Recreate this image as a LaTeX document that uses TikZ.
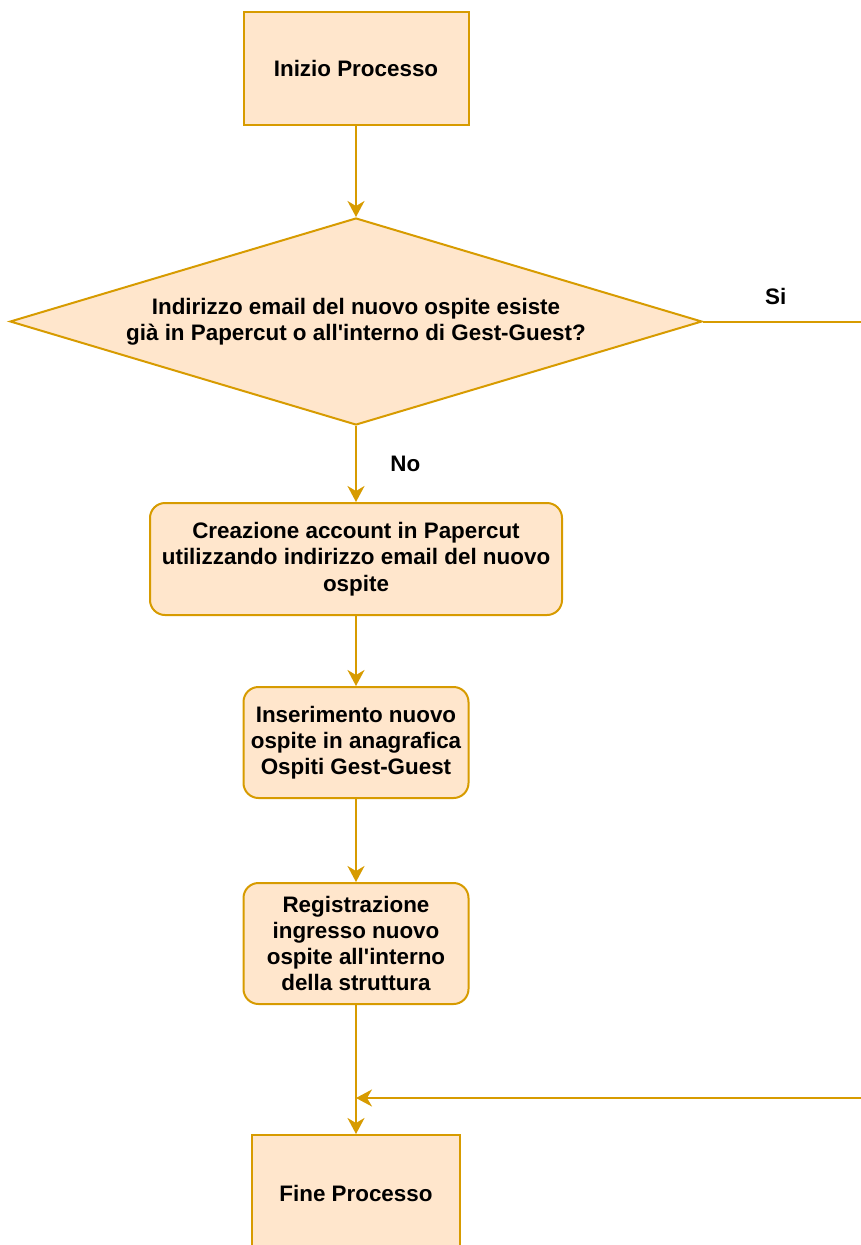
\documentclass[tikz,border=0pt]{standalone}
\usepackage{fontspec}
\setmainfont{Liberation Sans}
\usetikzlibrary{shapes.geometric,arrows.meta,positioning}
\definecolor{stepfill}{HTML}{FFE6CC}
\definecolor{stepline}{HTML}{D79B00}
\newcommand\flowfont{\fontsize{22.4}{26.3}\selectfont\bfseries}
\newcommand\apo{\textquotesingle}
\tikzset{
  termbox/.style={ draw=stepline, fill=stepfill, line width=2pt, minimum width=225pt, minimum height=113pt, align=center, font=\flowfont }
}
\tikzset{
  roundbox/.style={ termbox, rounded corners=15pt }
}
\tikzset{
  decision/.style={ draw=stepline, fill=stepfill, line width=2pt, diamond, aspect=3.34, inner sep=0pt, minimum width=692pt, minimum height=207pt, align=center, font=\flowfont }
}
\tikzset{
  link/.style={ draw=stepline, line width=2pt },
  flow/.style={ link, -{Stealth[length=16pt, width=17pt, inset=5pt]} }
}

\begin{document}
\begin{tikzpicture}[x=1pt, y=1pt]
      \useasboundingbox (0,0) rectangle (861,-1245);

      \node[termbox] (inizio) at (356,-68.5) {Inizio Processo};
      \node[decision] (verifica) at (356,-321.5) {Indirizzo email del nuovo ospite esiste\\gi\`a in Papercut o all\apo interno di Gest-Guest?};
      \node[roundbox, minimum width=412pt, minimum height=112pt] (account) at (356,-559) {Creazione account in Papercut\\utilizzando indirizzo email del nuovo\\ospite};
      \node[roundbox, minimum height=111pt] (anagrafica) at (356,-742.5) {Inserimento nuovo\\ospite in anagrafica\\Ospiti Gest-Guest};
      \node[roundbox, minimum height=121pt] (ingresso) at (356,-943.5) {Registrazione\\ingresso nuovo\\ospite all\apo interno\\della struttura};
      \node[termbox, minimum width=208pt, minimum height=116pt] (fine) at (356,-1193) {Fine Processo};

      % the "Si" branch leaves and comes back outside the picture
      \coordinate (siout) at (861,-321.5);
      \coordinate (siback) at (861,-1098);
      \coordinate (merge) at (356,-1098);

      \draw[flow] (inizio) -- (verifica);
      \draw[flow] (verifica) -- node[midway, right=30pt, font=\flowfont] {No} (account);
      \draw[link] (verifica) -- node[pos=0.46, above=12pt, font=\flowfont] {Si} (siout);
      \draw[flow] (account) -- (anagrafica);
      \draw[flow] (anagrafica) -- (ingresso);
      \draw[flow] (ingresso) -- (fine);
      \draw[flow] (siback) -- (merge);

    \end{tikzpicture}
\end{document}
